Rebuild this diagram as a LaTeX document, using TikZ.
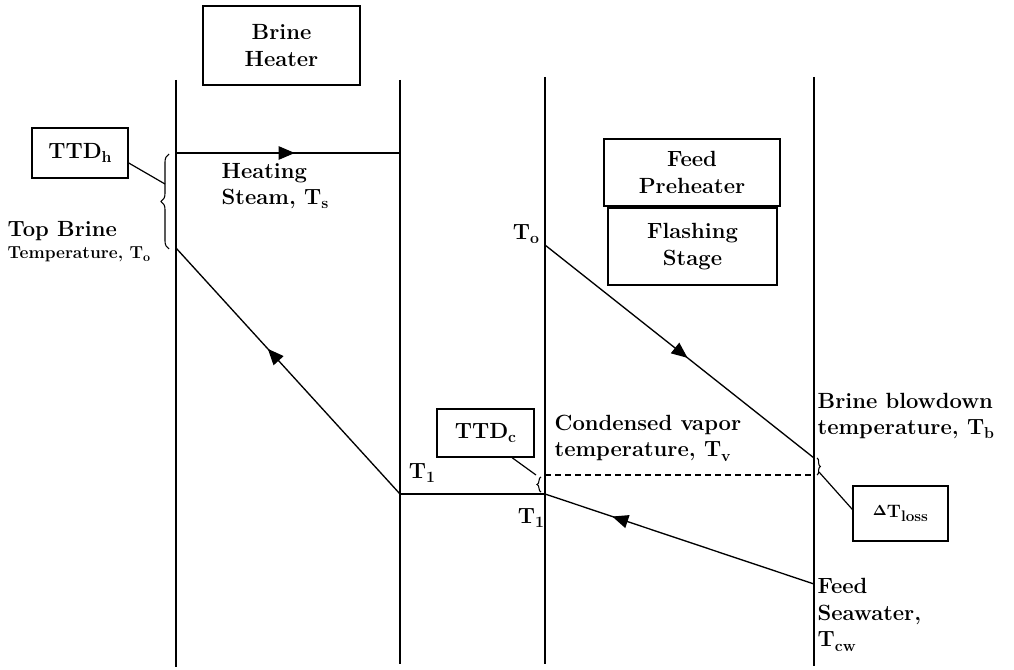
\documentclass[tikz,border=0pt]{standalone}
\usetikzlibrary{arrows.meta,decorations.markings,decorations.pathreplacing}
\newcommand\sbs[1]{\raisebox{-0.45ex}{\scalebox{0.72}{#1}}}
\begin{document}
\begin{tikzpicture}[x=0.75pt,y=-0.75pt,
  line width=1pt,
  every node/.style={font=\fontsize{16.5}{19.8}\selectfont\bfseries, inner sep=0pt},
  box/.style={draw, line width=1.1pt},
  lbl/.style={align=left, anchor=west},
  vline/.style={line width=1.2pt},
  midarrow/.style={postaction={decorate},decoration={markings,
     mark=at position #1 with {\arrow{Triangle[length=12pt,width=10pt]}}}},
  bracestyle/.style={decorate, line width=0.8pt},
  lead/.style={line width=0.9pt}]
\useasboundingbox (0,0) rectangle (1014,670);

% vertical lines
\coordinate (L1t) at (176,80);  \coordinate (L1b) at (176,667);
\coordinate (L2t) at (400,80);  \coordinate (L2b) at (400,664);
\coordinate (L3t) at (545,77);  \coordinate (L3b) at (545,664);
\coordinate (L4t) at (814,77);  \coordinate (L4b) at (814,666);
\draw[vline] (L1t) -- (L1b);
\draw[vline] (L2t) -- (L2b);
\draw[vline] (L3t) -- (L3b);
\draw[vline] (L4t) -- (L4b);

% key points
\coordinate (S1) at (176,153);
\coordinate (S2) at (400,153);
\coordinate (To1) at (176,248);
\coordinate (T1a) at (400,494);
\coordinate (T1b) at (545,494);
\coordinate (To2) at (545,245);
\coordinate (Tb) at (814,458);
\coordinate (Tcw) at (814,584);
\coordinate (Tv1) at (545,475);
\coordinate (Tv2) at (814,475);

% process lines
\draw[midarrow=0.53] (S1) -- (S2);
\draw[midarrow=0.59] (T1a) -- (To1);
\draw (T1a) -- (T1b);
\draw[midarrow=0.53] (To2) -- (Tb);
\draw[midarrow=0.75] (Tcw) -- (T1b);
\draw[dash pattern=on 4.5pt off 3pt, line width=0.8pt] (Tv1) -- (Tv2);

% boxes
\node[box, minimum width=118pt, minimum height=59pt, align=center] (BH) at (281.5,45.5) {Brine\\Heater};
\node[box, minimum width=72pt, minimum height=37.5pt] (TTDh) at (80,153) {TTD\sbs{h}};
\node[box, minimum width=132pt, minimum height=50pt, align=center] (FP) at (692,172.5) {Feed\\Preheater};
\node[box, minimum width=127pt, minimum height=58pt, align=center] (FS) at (692.5,246.5) {Flashing\\Stage};
\node[box, minimum width=73pt, minimum height=36pt] (TTDc) at (485.5,433) {TTD\sbs{c}};
\node[box, minimum width=71pt, minimum height=41pt, font=\fontsize{13.5}{15}\selectfont\bfseries] (TL) at (900.5,513.5) {\raisebox{0.3ex}{\fontsize{10.5}{11}\selectfont$\mathbf{\Delta}$}T\raisebox{-0.45ex}{\scalebox{0.85}{loss}}};

% braces
\draw[bracestyle, decoration={brace, amplitude=6pt}] (169,249) -- (169,154);
\coordinate (Bh) at (165,184);
\draw[bracestyle, decoration={brace, amplitude=3pt}] (541,492) -- (541,477);
\coordinate (Bc) at (536,475);
\draw[bracestyle, decoration={brace, amplitude=2.5pt}] (817,458) -- (817,475);
\coordinate (Bl) at (819,472);

% leader lines
\draw[lead] ([yshift=-7.5pt]TTDh.east) -- (Bh);
\draw[lead] ([xshift=20pt]TTDc.south) -- (Bc);
\draw[lead] ([yshift=3pt]TL.west) -- (Bl);

% labels
\node[lbl] (HS) at (221,186) {Heating\\Steam, T\sbs{s}};
\node[lbl] (TB1) at (7,231) {Top Brine};
\node[lbl, font=\fontsize{13}{15}\selectfont\bfseries] (TB2) at (7,254) {Temperature, T\sbs{o}};
\node (To2l) at (526,234) {T\sbs{o}};
\node (T1u) at (422,473) {T\sbs{1}};
\node (T1l) at (531,518) {T\sbs{1}};
\node[lbl] (CV) at (554,438) {Condensed vapor\\temperature, T\sbs{v}};
\node[lbl] (BB) at (817,416) {Brine blowdown\\temperature, T\sbs{b}};
\node[lbl] (FSW) at (817,615) {Feed\\Seawater,\\T\sbs{cw}};
\end{tikzpicture}
\end{document}
